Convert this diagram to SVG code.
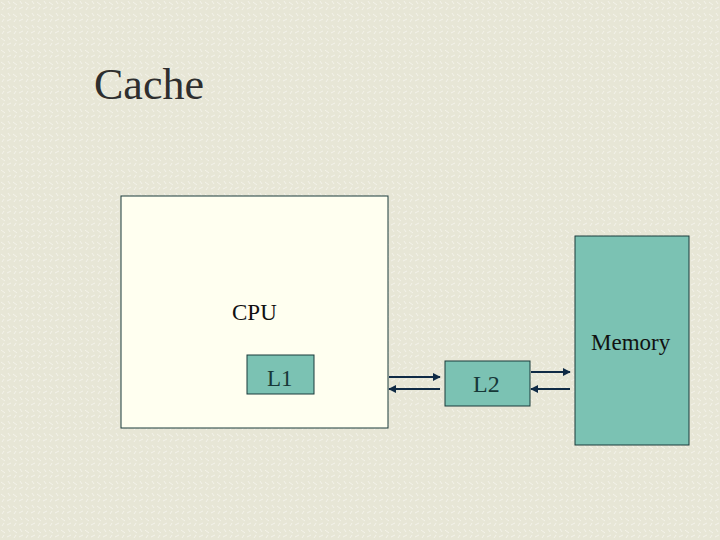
<svg xmlns="http://www.w3.org/2000/svg" width="720" height="540" viewBox="0 0 720 540">
<defs>
<style>
.t{font-family:"Liberation Serif","Times New Roman",serif;fill:#111}
.box{stroke:#1a3a3a;stroke-width:1}
.teal{fill:#7bc2b3}
.arr{stroke:#0f2a45;stroke-width:2;fill:none;marker-end:url(#ah)}
</style>
<marker id="ah" viewBox="0 0 10 10" refX="9" refY="5" markerWidth="4" markerHeight="4" orient="auto" markerUnits="strokeWidth">
<path d="M0,0 L10,5 L0,10 z" fill="#0f2a45"/>
</marker>
<pattern id="tex" width="12" height="12" patternUnits="userSpaceOnUse">
<rect width="12" height="12" fill="#e7e6d6"/>
<path d="M1,2 L5,5 M7,9 L11,7 M2,10 L4,7 M8,1 L10,4" stroke="#f4f3ea" stroke-width="1"/>
</pattern>
</defs>
<rect width="720" height="540" fill="url(#tex)"/>
<text class="t" x="94" y="99" font-size="44" style="fill:#2e2e2e">Cache</text>
<g id="cpu">
<rect class="box" x="121" y="196" width="267" height="232" fill="#fffff0"/>
<text class="t" x="232" y="320" font-size="23">CPU</text>
</g>
<g id="l1">
<rect class="box teal" x="247" y="355" width="67" height="39"/>
<text class="t" x="267" y="386" font-size="23" style="fill:#173838">L1</text>
</g>
<g id="l2">
<rect class="box teal" x="445" y="361" width="85" height="45"/>
<text class="t" x="473" y="392" font-size="24" style="fill:#173838">L2</text>
</g>
<g id="memory">
<rect class="box teal" x="575" y="236" width="114" height="209"/>
<text class="t" x="591" y="350" font-size="23">Memory</text>
</g>
<g id="connectors">
<line class="arr" x1="389" y1="377" x2="440" y2="377"/>
<line class="arr" x1="440" y1="389" x2="389" y2="389"/>
<line class="arr" x1="531" y1="372" x2="570" y2="372"/>
<line class="arr" x1="570" y1="389" x2="531" y2="389"/>
</g>
</svg>
